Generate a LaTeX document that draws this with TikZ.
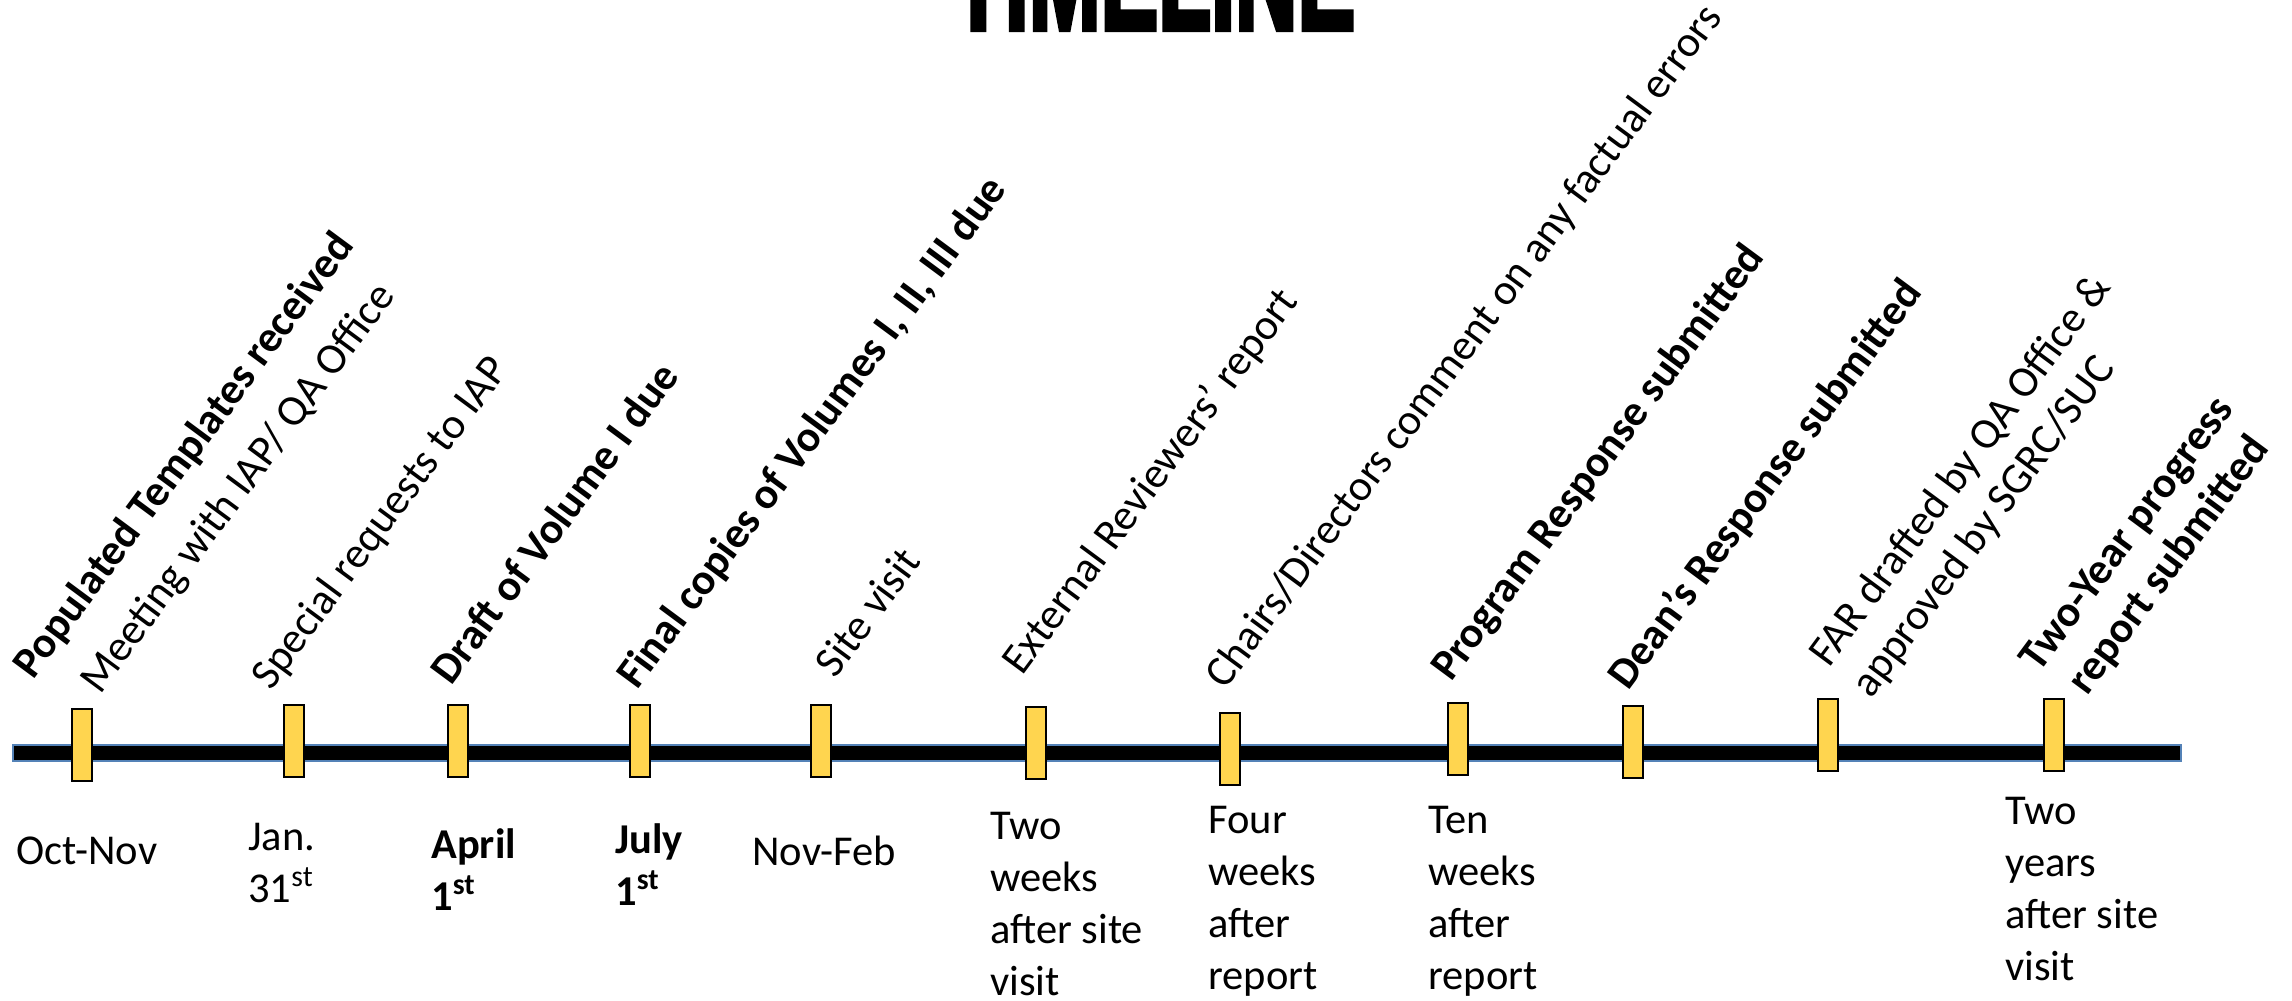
\documentclass[tikz,border=0pt]{standalone}
\usepackage{fontspec}
\usepackage{graphicx}
\setmainfont{Carlito}
\newfontfamily\titlefont{Liberation Sans}[UprightFont=* Bold, FakeBold=4]
\definecolor{markfill}{RGB}{255,213,79}
\definecolor{barline}{RGB}{84,130,183}
\tikzset{
  lbl/.style={font=\fontsize{21.25pt}{26pt}\selectfont, inner sep=0pt, anchor=base west, align=left},
  blbl/.style={font=\fontsize{21.25pt}{26pt}\selectfont\bfseries, inner sep=0pt, anchor=base west, align=left},
  rlbl/.style={font=\fontsize{21.75pt}{26pt}\selectfont, inner sep=0pt, anchor=base west, align=left, rotate=53.5},
  rblbl/.style={font=\fontsize{21.75pt}{26pt}\selectfont\bfseries, inner sep=0pt, anchor=base west, align=left, rotate=53.5},
  marker/.style={draw=black, line width=1pt, fill=markfill, minimum width=10pt, minimum height=36pt, inner sep=0pt},
}
\begin{document}
\begin{tikzpicture}[x=0.5pt,y=-0.5pt]
\useasboundingbox (0,0) rectangle (2292,1001);
% title (cut off at the top)
\node (title) [anchor=base, inner sep=0pt] at (1153.5,29)
  {\titlefont\fontsize{75pt}{75pt}\selectfont\scalebox{0.576}[1]{TIMELINE}};
% axis
\draw[barline, line width=1.25pt, fill=black] (13,745) rectangle (2181,761);
% markers
\node[marker] (m1)  at (82,745) {};
\node[marker] (m2)  at (294,741) {};
\node[marker] (m3)  at (458,741) {};
\node[marker] (m4)  at (640,741) {};
\node[marker] (m5)  at (821,741) {};
\node[marker] (m6)  at (1036,743) {};
\node[marker] (m7)  at (1230,749) {};
\node[marker] (m8)  at (1458,739) {};
\node[marker] (m9)  at (1633,742) {};
\node[marker] (m10) at (1828,735) {};
\node[marker] (m11) at (2054,735) {};
% rotated event labels (anchor: start of the last line's baseline)
\node[rblbl] (e1)  at (33,681)   {Populated Templates received};
\node[rlbl]  (e2)  at (100,696)  {Meeting with IAP/ QA Office};
\node[rlbl]  (e3)  at (271,692)  {Special requests to IAP};
\node[rblbl] (e4)  at (451,687)  {Draft of Volume I due};
\node[rblbl] (e5)  at (637,691)  {Final copies of Volumes I, II, III due};
\node[rlbl]  (e6)  at (835,680)  {Site visit};
\node[rlbl]  (e7)  at (1022,677) {External Reviewers’ report};
\node[rlbl]  (e8)  at (1225,691) {Chairs/Directors comment on any factual errors};
\node[rblbl] (e9)  at (1451,683) {Program Response submitted};
\node[rblbl] (e10) at (1628,692) {Dean’s Response submitted};
\node[rlbl]  (e11) at (1871,700) {FAR drafted by QA Office \&\\approved by SGRC/SUC};
\node[rblbl, align=center] (e12) at (2081,705) {Two-Year progress\\report submitted};
% dates (anchor: start of the last line's baseline)
\node[lbl]  (d1) at (16,864)   {Oct-Nov};
\node[lbl]  (d2) at (248,902)  {Jan.\\31\textsuperscript{st}};
\node[blbl] (d3) at (431,910)  {April\\1\textsuperscript{st}};
\node[blbl] (d4) at (615,905)  {July\\1\textsuperscript{st}};
\node[lbl]  (d5) at (752,865)  {Nov-Feb};
\node[lbl]  (d6) at (990,995)  {Two\\weeks\\after site\\visit};
\node[lbl]  (d7) at (1208,989) {Four\\weeks\\after\\report};
\node[lbl]  (d8) at (1428,989) {Ten\\weeks\\after\\report};
\node[lbl]  (d9) at (2005,980) {Two\\years\\after site\\visit};
\end{tikzpicture}
\end{document}
